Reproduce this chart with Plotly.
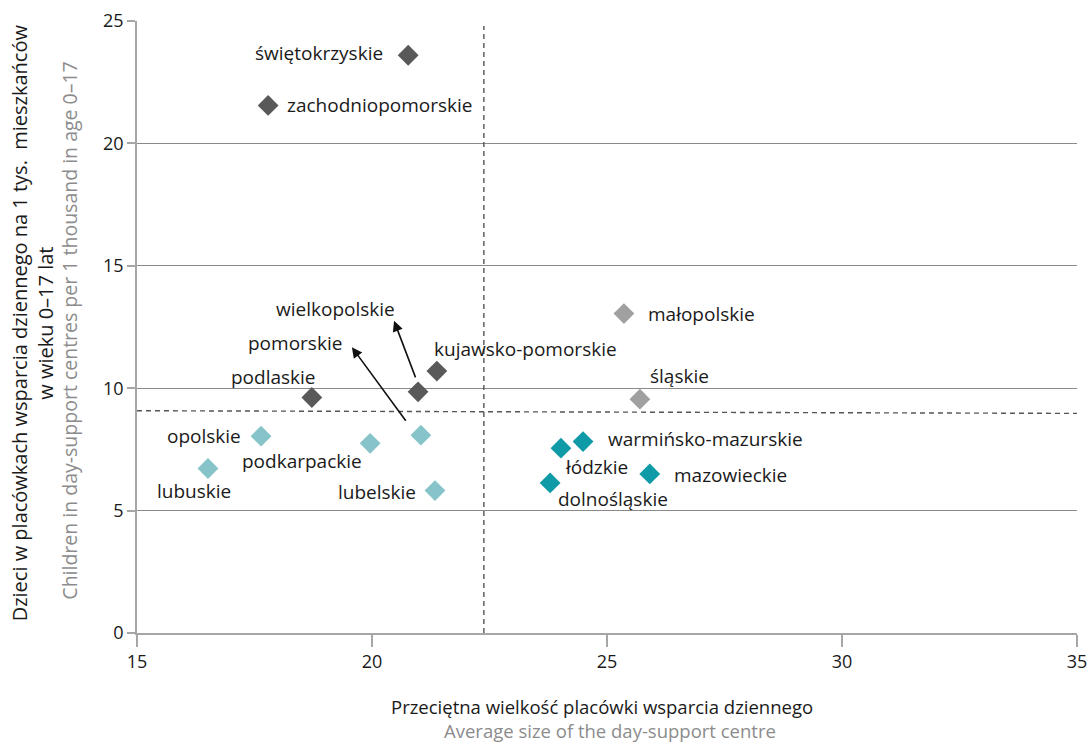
import plotly.graph_objects as go

# ---- data ----
regions = ["świętokrzyskie", "zachodniopomorskie", "kujawsko-pomorskie", "wielkopolskie",
           "podlaskie", "małopolskie", "śląskie", "opolskie", "podkarpackie", "pomorskie",
           "lubuskie", "lubelskie", "warmińsko-mazurskie", "łódzkie", "mazowieckie",
           "dolnośląskie"]
avg_size = [20.77, 17.79, 21.38, 20.98, 18.72, 25.36, 25.70, 17.64, 19.96, 21.04,
            16.51, 21.34, 24.49, 24.02, 25.91, 23.79]
children = [23.6, 21.55, 10.7, 9.85, 9.62, 13.05, 9.55, 8.04, 7.75, 8.08,
            6.72, 5.82, 7.82, 7.55, 6.5, 6.13]
group = ["A", "A", "A", "A", "A", "B", "B", "C", "C", "C", "C", "C", "D", "D", "D", "D"]

mean_x = 22.38
mean_y_left = 9.08
mean_y_right = 8.97

x_ticks = [15, 20, 25, 30, 35]
y_ticks = [0, 5, 10, 15, 20, 25]

# ---- styles ----
colors = {"A": "#595959", "B": "#a0a0a0", "C": "#86c4c9", "D": "#0e9aa6"}
# label placement: (xanchor, xshift px, yshift px)
label_pos = {
    "świętokrzyskie": ("right", -23, 2),
    "zachodniopomorskie": ("left", 17, 0),
    "kujawsko-pomorskie": ("left", -5, 22),
    "wielkopolskie": ("center", -83, 83),
    "podlaskie": ("center", -38, 21),
    "małopolskie": ("left", 22, 0),
    "śląskie": ("center", 40, 23),
    "opolskie": ("right", -18, 0),
    "podkarpackie": ("center", -68, -18),
    "pomorskie": ("center", -126, 92),
    "lubuskie": ("center", -14, -23),
    "lubelskie": ("right", -17, -1),
    "warmińsko-mazurskie": ("left", 23, 3),
    "łódzkie": ("center", 36, -19),
    "mazowieckie": ("left", 22, -1),
    "dolnośląskie": ("center", 63, -16),
}
# arrows: region -> (tail dx,dy px from point, head dx,dy px from point)
arrows = {
    "pomorskie": (-14, 13, -69, 88),
    "wielkopolskie": (-2, 13, -24, 71),
}

FONT = "Open Sans, Lato, sans-serif"
FS_LABEL = 19
FS_TICK = 18
FS_TITLE = 20

fig = go.Figure()
for g in ["A", "B", "C", "D"]:
    idx = [i for i, gg in enumerate(group) if gg == g]
    fig.add_trace(go.Scatter(
        x=[avg_size[i] for i in idx], y=[children[i] for i in idx],
        mode="markers", marker=dict(symbol="diamond", size=16, color=colors[g]),
        hoverinfo="skip", showlegend=False))

ann = []
for name, xv, yv in zip(regions, avg_size, children):
    xa, xs, ys = label_pos[name]
    ann.append(dict(x=xv, y=yv, xref="x", yref="y", text=name, showarrow=False,
                    xanchor=xa, yanchor="middle", xshift=xs, yshift=ys,
                    font=dict(family=FONT, size=FS_LABEL, color="#1a1a1a")))

# convert arrow pixel offsets to data units
px_per_x = 940 / 20.0
px_per_y = 612 / 25.0
for name, (tdx, tdy, hdx, hdy) in arrows.items():
    i = regions.index(name)
    xv, yv = avg_size[i], children[i]
    ann.append(dict(
        x=xv + hdx / px_per_x, y=yv + hdy / px_per_y,
        ax=xv + tdx / px_per_x, ay=yv + tdy / px_per_y,
        xref="x", yref="y", axref="x", ayref="y", text="",
        showarrow=True, arrowhead=2, arrowsize=1.3, arrowwidth=1.6,
        arrowcolor="#111111"))

# axis titles
ann += [
    dict(x=-0.1117, y=0.506, xref="paper", yref="paper", textangle=-90,
         text="Dzieci w placówkach wsparcia dziennego na 1 tys.  mieszkańców<br>w wieku 0–17 lat",
         showarrow=False, xanchor="center", yanchor="middle",
         font=dict(family=FONT, size=FS_TITLE, color="#1a1a1a")),
    dict(x=-0.0713, y=0.494, xref="paper", yref="paper", textangle=-90,
         text="Children in day-support centres per 1 thousand in age 0–17",
         showarrow=False, xanchor="center", yanchor="middle",
         font=dict(family=FONT, size=FS_TITLE - 0.5, color="#8c8c8c")),
    dict(x=0.4947, y=-0.1209, xref="paper", yref="paper",
         text="Przeciętna wielkość placówki wsparcia dziennego",
         showarrow=False, xanchor="center", yanchor="middle",
         font=dict(family=FONT, size=FS_TITLE - 1.5, color="#1a1a1a")),
    dict(x=0.503, y=-0.1601, xref="paper", yref="paper",
         text="Average size of the day-support centre",
         showarrow=False, xanchor="center", yanchor="middle",
         font=dict(family=FONT, size=FS_TITLE - 1.5, color="#8c8c8c")),
]

dash_style = dict(color="#555555", width=1.4, dash="5px,4px")
shapes = [
    dict(type="line", xref="x", yref="y", x0=mean_x, x1=mean_x, y0=0, y1=y_ticks[-1] - 0.2,
         line=dash_style),
    dict(type="line", xref="x", yref="y", x0=x_ticks[0], x1=x_ticks[-1],
         y0=mean_y_left, y1=mean_y_right, line=dash_style),
]

fig.update_layout(
    width=1088, height=744, autosize=False,
    margin=dict(l=137, r=11, t=21, b=111, autoexpand=False),
    paper_bgcolor="white", plot_bgcolor="white",
    annotations=ann, shapes=shapes,
    xaxis=dict(range=[x_ticks[0], x_ticks[-1]], tickvals=x_ticks, showgrid=False,
               zeroline=False, showline=True, linecolor="#a6a6a6", linewidth=1.5,
               ticks="outside", ticklen=12, tickcolor="#a6a6a6", tickwidth=1.5,
               automargin=False,
               tickfont=dict(family=FONT, size=FS_TICK, color="#1a1a1a")),
    yaxis=dict(range=[y_ticks[0], y_ticks[-1]], tickvals=y_ticks, showgrid=True,
               gridcolor="#8a8a8a", gridwidth=1.2, zeroline=False, showline=True,
               linecolor="#a6a6a6", linewidth=1.5, ticks="outside", ticklen=8,
               tickcolor="#a6a6a6", tickwidth=1.5, automargin=False,
               tickfont=dict(family=FONT, size=FS_TICK, color="#1a1a1a")),
    font=dict(family=FONT),
)

fig.write_html("out.html", config={"displayModeBar": False},
               post_script="document.body.style.margin='0';document.body.style.overflow='hidden';")
